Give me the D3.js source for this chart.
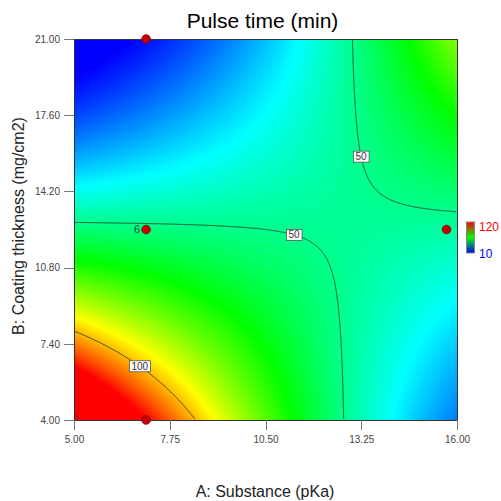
<!DOCTYPE html>
<html>
<head>
<meta charset="utf-8">
<script src="https://cdn.jsdelivr.net/npm/d3@7"></script>
<style>
  body { margin: 0; background: #fff; }
  svg { display: block; }
  text { font-family: "Liberation Sans", Arial, sans-serif; }
</style>
</head>
<body>
<svg id="chart" width="501" height="501"></svg>
<script>
// Factor ranges
const factorA = [5, 16];   // A: Substance (pKa)
const factorB = [4, 21];   // B: Coating thickness (mg/cm2)

// 2FI model for sqrt(Pulse time): intercept, A, B, AB
const sqrtModel = [19.801, -0.9959, -0.9893, 0.0769];

const xTicks = [5.00, 7.75, 10.50, 13.25, 16.00];
const yTicks = [4.00, 7.40, 10.80, 14.20, 17.60, 21.00];

const contourLevels = [50, 100, 150];
const colorStops = [10, 37.5, 65, 92.5, 120];
const colorNames = ["#0000ff", "#00ffff", "#00ff00", "#ffff00", "#ff0000"];
const legendRange = [10, 120];

// Design points (A, B) and replicate counts
const designA = [7.07, 7.07, 7.07, 15.70];
const designB = [21.00, 12.50, 4.00, 12.50];
const designN = [1, 6, 1, 1];

// Where each contour label sits: level, and the A or B value along that line
const labelLevels = [50, 50, 100];
const labelAtA = [11.32, null, 6.89];
const labelAtB = [null, 15.75, null];

const svg = d3.select("#chart");
const plotLeft = 74, plotTop = 39, W = 383, H = 381;

const x = d3.scaleLinear().domain(factorA).range([plotLeft, plotLeft + W]);
const y = d3.scaleLinear().domain(factorB).range([plotTop + H, plotTop]);
const color = d3.scaleLinear().domain(colorStops).range(colorNames).clamp(true);

const [c0, cA, cB, cAB] = sqrtModel;
const sq = (a, b) => c0 + cA * a + cB * b + cAB * a * b;
const pulse = (a, b) => { const q = sq(a, b); return q > 0 ? q * q : 0; };

// Filled response surface, one pixel per cell
const canvas = document.createElement("canvas");
canvas.width = W; canvas.height = H;
const ctx = canvas.getContext("2d");
const img = ctx.createImageData(W, H);
const grid = new Float64Array(W * H);
for (let j = 0; j < H; j++) {
  const b = y.invert(plotTop + j + 0.5);
  for (let i = 0; i < W; i++) {
    const a = x.invert(plotLeft + i + 0.5);
    const v = pulse(a, b);
    grid[j * W + i] = v;
    const c = d3.rgb(color(v));
    const k = (j * W + i) * 4;
    img.data[k] = c.r; img.data[k + 1] = c.g; img.data[k + 2] = c.b; img.data[k + 3] = 255;
  }
}
ctx.putImageData(img, 0, 0);
svg.append("image")
  .attr("x", plotLeft).attr("y", plotTop).attr("width", W).attr("height", H)
  .attr("preserveAspectRatio", "none")
  .attr("href", canvas.toDataURL());

// Contour lines
svg.append("clipPath").attr("id", "plotClip")
  .append("rect").attr("x", plotLeft + 1).attr("y", plotTop + 1).attr("width", W - 2).attr("height", H - 2);
const contours = d3.contours().size([W, H]).thresholds(contourLevels)(grid);
const path = d3.geoPath(d3.geoIdentity().translate([plotLeft, plotTop]));
svg.append("g").attr("clip-path", "url(#plotClip)")
  .selectAll("path").data(contours).join("path")
  .attr("d", path)
  .attr("fill", "none")
  .attr("stroke", "#1f3328")
  .attr("stroke-opacity", 0.85)
  .attr("stroke-width", 1);

// Contour labels
const labels = svg.append("g");
labelLevels.forEach((lv, i) => {
  const q = Math.sqrt(lv);
  let a, b;
  if (labelAtA[i] != null) { a = labelAtA[i]; b = (q - c0 - cA * a) / (cB + cAB * a); }
  else { b = labelAtB[i]; a = (q - c0 - cB * b) / (cA + cAB * b); }
  const g = labels.append("g").attr("transform", `translate(${x(a)},${y(b)})`);
  const t = g.append("text").attr("text-anchor", "middle").attr("dy", "0.35em")
    .attr("font-size", 10).attr("fill", "#333").text(lv);
  const bb = t.node().getBBox();
  g.insert("rect", "text")
    .attr("x", bb.x - 2).attr("y", -5.5).attr("width", bb.width + 4).attr("height", 11)
    .attr("fill", "#fff").attr("stroke", "#555").attr("stroke-width", 0.8);
});

// Plot frame
svg.append("rect")
  .attr("x", plotLeft).attr("y", plotTop).attr("width", W).attr("height", H)
  .attr("fill", "none").attr("stroke", "#333").attr("stroke-width", 1)
  .attr("shape-rendering", "crispEdges");

// Design points
const pts = svg.append("g");
designA.forEach((a, i) => {
  pts.append("circle").attr("cx", x(a)).attr("cy", y(designB[i])).attr("r", 4.3)
    .attr("fill", "#c80000").attr("stroke", "#7a0000").attr("stroke-width", 0.8);
  if (designN[i] > 1) {
    pts.append("text").attr("x", x(a) - 6).attr("y", y(designB[i]) + 3.8)
      .attr("text-anchor", "end").attr("font-size", 11).attr("fill", "#2d4a3a")
      .text(designN[i]);
  }
});

// Axes
const fmt = d3.format(".2f");
const gx = svg.append("g").attr("transform", `translate(0,${plotTop + H})`)
  .call(d3.axisBottom(x).tickValues(xTicks).tickFormat(fmt).tickSize(10).tickPadding(6));
const gy = svg.append("g").attr("transform", `translate(${plotLeft},0)`)
  .call(d3.axisLeft(y).tickValues(yTicks).tickFormat(fmt).tickSize(10).tickPadding(4));
[gx, gy].forEach(g => {
  g.select(".domain").remove();
  g.selectAll(".tick line").attr("stroke", "#777").attr("shape-rendering", "crispEdges");
  g.selectAll(".tick text").attr("fill", "#444").attr("font-size", 10)
    .attr("font-family", "'Liberation Sans', Arial, sans-serif");
});

// Titles
svg.append("text").attr("x", 262.5).attr("y", 28).attr("text-anchor", "middle")
  .attr("font-size", 21).attr("fill", "#000").text("Pulse time (min)");
svg.append("text").attr("x", 265).attr("y", 497).attr("text-anchor", "middle")
  .attr("font-size", 16).attr("fill", "#222").text("A: Substance (pKa)");
svg.append("text").attr("transform", "translate(23.5,226) rotate(-90)")
  .attr("text-anchor", "middle").attr("font-size", 16).attr("fill", "#222")
  .text("B: Coating thickness (mg/cm2)");

// Colour legend
const defs = svg.append("defs");
const grad = defs.append("linearGradient").attr("id", "legendGrad")
  .attr("x1", 0).attr("y1", 1).attr("x2", 0).attr("y2", 0);
grad.append("stop").attr("offset", "0%").attr("stop-color", "#0000ff");
grad.append("stop").attr("offset", "50%").attr("stop-color", "#00ff00");
grad.append("stop").attr("offset", "100%").attr("stop-color", "#ff0000");
const ly = d3.scaleLinear().domain(legendRange).range([253, 222]);
svg.append("rect").attr("x", 466.5).attr("y", ly(120)).attr("width", 8)
  .attr("height", ly(10) - ly(120))
  .attr("fill", "url(#legendGrad)").attr("stroke", "#888").attr("stroke-width", 1);
svg.append("text").attr("x", 479).attr("y", ly(120) + 9).attr("font-size", 12)
  .attr("fill", "#ff0000").text(legendRange[1]);
svg.append("text").attr("x", 479).attr("y", ly(10) + 4.5).attr("font-size", 12)
  .attr("fill", "#0000ff").text(legendRange[0]);
</script>
</body>
</html>
